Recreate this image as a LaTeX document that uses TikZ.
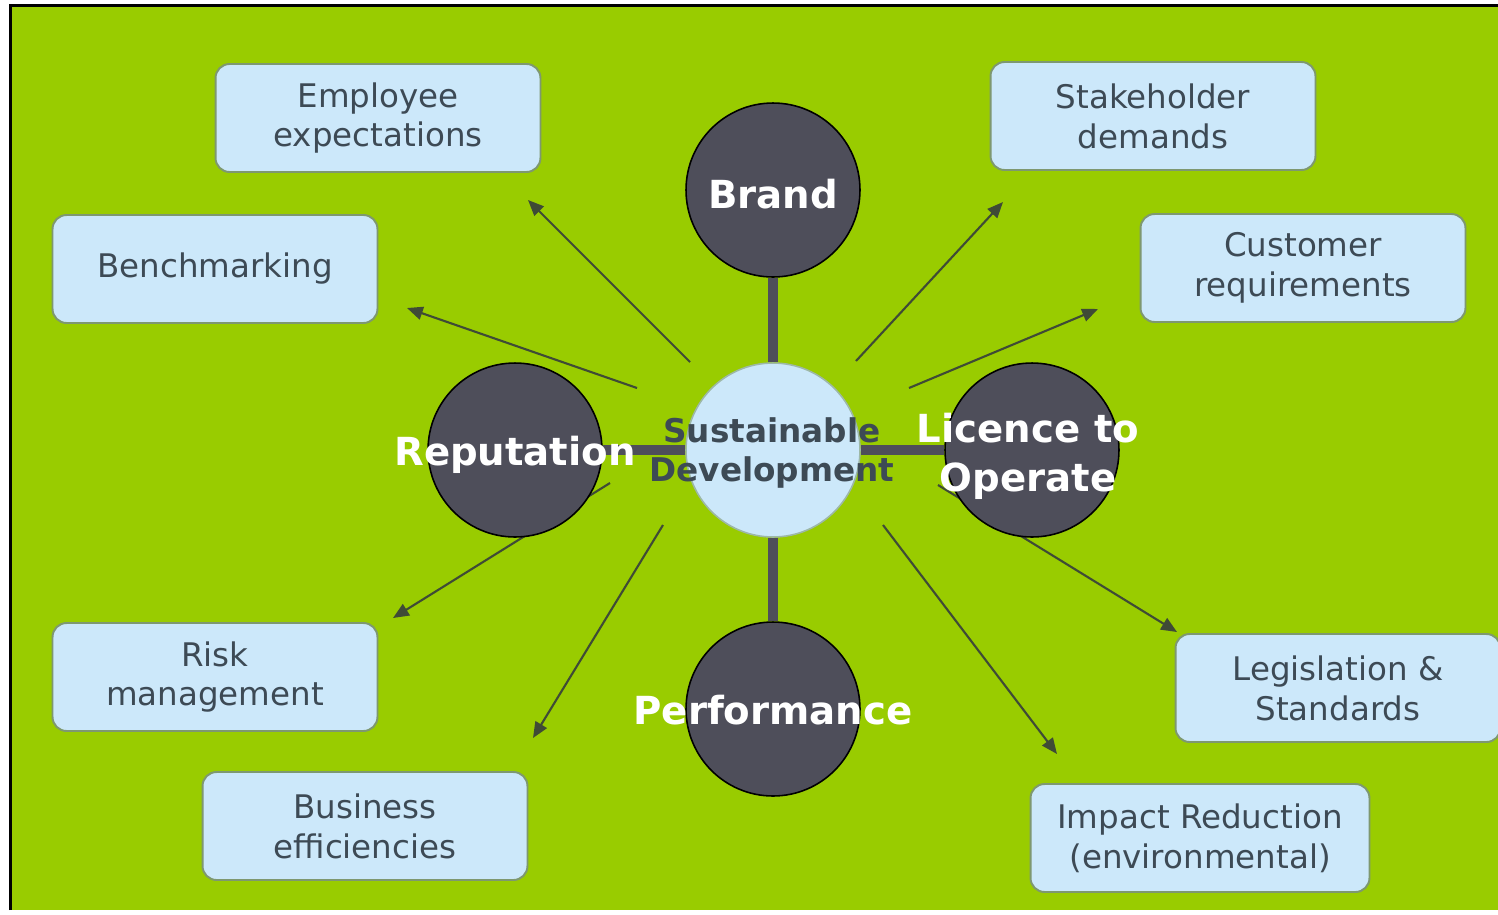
\documentclass[tikz,border=0pt]{standalone}
\usepackage{fontspec}
\setmainfont{DejaVu Sans}
\usetikzlibrary{arrows.meta}
\definecolor{leaf}{HTML}{99CC00}
\definecolor{slate}{HTML}{4E4E5A}
\definecolor{sky}{HTML}{CCE8FA}
\definecolor{ink}{HTML}{3D4A55}
\definecolor{rim}{HTML}{7E9870}
\definecolor{twig}{HTML}{3F4B36}
\begin{document}
\begin{tikzpicture}[x=0.02cm,y=-0.02cm,
    driver/.style={rounded corners=8pt,draw=rim,line width=1.1pt,fill=sky,text=ink,
      minimum width=6.5cm,minimum height=2.16cm,align=center,
      font=\fontsize{18.5}{22.7}\selectfont},
    ball/.style={circle,draw=black,line width=0.9pt,fill=slate,minimum size=3.48cm,inner sep=0pt},
    hub/.style={circle,draw=rim!60!sky,line width=0.9pt,fill=sky,minimum size=3.48cm,inner sep=0pt},
    tag/.style={text=white,align=center,font=\fontsize{22}{27.8}\selectfont\bfseries},
    hubtag/.style={text=ink,align=center,font=\fontsize{18.6}{22.7}\selectfont\bfseries},
    spoke/.style={slate,line width=5.7pt}]
  \useasboundingbox (0,0) rectangle (1498,914);
  \fill[white] (0,0) rectangle (1498,914);
  \fill[leaf] (11,6) rectangle (1498,910);
  \draw[black,line width=1.4pt] (10.5,910) -- (10.5,5.5) -- (1498,5.5);

  \node[driver] (emp) at (378,118) {Employee\\expectations};
  \node[driver] (bench) at (215,269) {Benchmarking};
  \node[driver] (risk) at (215,677) {Risk\\management};
  \node[driver] (biz) at (365,826) {Business\\efficiencies};
  \node[driver] (stake) at (1153,116) {Stakeholder\\demands};
  \node[driver] (cust) at (1303,268) {Customer\\requirements};
  \node[driver] (legis) at (1338,688) {Legislation \&\\Standards};
  \node[driver,minimum width=6.78cm] (impact) at (1200,838) {Impact Reduction\\(environmental)};

  \coordinate (s1) at (690,362); \coordinate (t1) at (528,200);
  \coordinate (s2) at (637,388); \coordinate (t2) at (407,308);
  \coordinate (s3) at (856,361); \coordinate (t3) at (1003,202);
  \coordinate (s4) at (909,388); \coordinate (t4) at (1098,309);
  \coordinate (s5) at (610,483); \coordinate (t5) at (393,618);
  \coordinate (s6) at (663,525); \coordinate (t6) at (533,738);
  \coordinate (s7) at (883,525); \coordinate (t7) at (1057,754);
  \coordinate (s8) at (938,485); \coordinate (t8) at (1177,632);
  \begin{scope}[twig,line width=1.2pt,-{Triangle[length=9pt,width=7.5pt]}]
    \draw (s1) -- (t1);
    \draw (s2) -- (t2);
    \draw (s3) -- (t3);
    \draw (s4) -- (t4);
    \draw (s5) -- (t5);
    \draw (s6) -- (t6);
    \draw (s7) -- (t7);
    \draw (s8) -- (t8);
  \end{scope}

  \node[hub] (sd) at (773,450) {};
  \node[ball] (brand) at (773,190) {};
  \node[ball] (rep) at (515,450) {};
  \node[ball] (lic) at (1032,450) {};
  \node[ball] (perf) at (773,709) {};
  \begin{scope}[spoke]
    \draw (sd.north) -- (brand.south);
    \draw (sd.west) -- (rep.east);
    \draw (sd.east) -- (lic.west);
    \draw (sd.south) -- (perf.north);
  \end{scope}

  \node[tag] (brandtag) at (773,194) {Brand};
  \node[tag] (reptag) at (515,455) {Reputation};
  \node[tag] (lictag) at (1028,456) {Licence to\\Operate};
  \node[tag] (perftag) at (773,710) {Performance};
  \node[hubtag] (sdtag) at (772,453) {Sustainable\\Development};
\end{tikzpicture}
\end{document}
